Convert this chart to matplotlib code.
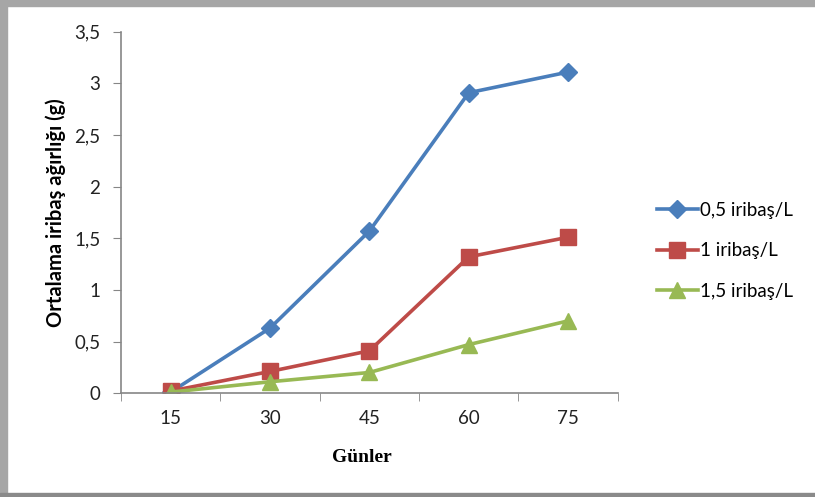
import matplotlib
matplotlib.use("Agg")
import matplotlib.pyplot as plt
from matplotlib.patches import Rectangle
from matplotlib.ticker import FuncFormatter, FixedLocator

days = ["15", "30", "45", "60", "75"]
s05 = [0.01, 0.63, 1.57, 2.91, 3.11]
s10 = [0.02, 0.21, 0.41, 1.32, 1.51]
s15 = [0.01, 0.11, 0.20, 0.47, 0.70]
labels = ["0,5 iribaş/L", "1 iribaş/L", "1,5 iribaş/L"]
yticks = [0, 0.5, 1, 1.5, 2, 2.5, 3, 3.5]

fig = plt.figure(figsize=(8.15, 4.97), dpi=100)
# frame / shadow
fig.patches.append(Rectangle((0, 0.988), 1, 0.012, transform=fig.transFigure, color="#a6a6a6", zorder=0))
fig.patches.append(Rectangle((0, 0), 0.009, 1, transform=fig.transFigure, color="#a6a6a6", zorder=0))
fig.patches.append(Rectangle((0, 0), 1, 0.008, transform=fig.transFigure, color="#8a8a8a", zorder=0))

ax = fig.add_axes([0.1485, 0.209, 0.6095, 0.727])
x = list(range(len(days)))
ax.plot(x, s05, color="#4a7ebb", lw=2.6, marker="D", ms=9, label=labels[0])
ax.plot(x, s10, color="#be4b48", lw=2.6, marker="s", ms=11, label=labels[1])
ax.plot(x, s15, color="#98b954", lw=2.6, marker="^", ms=12, label=labels[2])

ax.set_xlim(-0.5, 4.5)
ax.set_ylim(0, 3.5)
ax.set_yticks(yticks)
ax.yaxis.set_major_formatter(FuncFormatter(lambda v, p: (f"{v:g}").replace(".", ",")))
ax.set_xticks(x)
ax.set_xticklabels(days)
ax.xaxis.set_minor_locator(FixedLocator([-0.5, 0.5, 1.5, 2.5, 3.5, 4.5]))
ax.tick_params(axis="x", which="major", length=0, pad=12)
ax.tick_params(axis="x", which="minor", length=6, color="#868686")
ax.tick_params(axis="y", length=6, color="#868686", pad=9)
for t in ax.get_xticklabels() + ax.get_yticklabels():
    t.set_fontfamily("Lato")
    t.set_fontsize(13.5)
    t.set_color("#222222")
for s in ["top", "right"]:
    ax.spines[s].set_visible(False)
for s in ["left", "bottom"]:
    ax.spines[s].set_color("#868686")
    ax.spines[s].set_linewidth(1.2)

ax.set_ylabel("Ortalama iribaş ağırlığı (g)", fontfamily="Lato", fontweight="bold", fontsize=14.5, labelpad=6)
ax.set_xlabel("Günler", fontfamily="Liberation Serif", fontweight="bold", fontsize=14, labelpad=8)
ax.xaxis.set_label_coords(0.485, -0.155)

leg = fig.legend(loc="center left", bbox_to_anchor=(0.785, 0.495), frameon=False,
                 prop={"family": "Lato", "size": 13.5}, handlelength=2.2, handletextpad=0.1,
                 labelspacing=1.25)

fig.savefig("out.png", dpi=100)
